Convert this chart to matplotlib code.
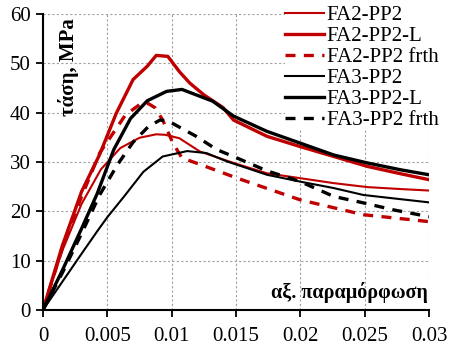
import matplotlib
matplotlib.use("Agg")
import matplotlib.pyplot as plt

# ── Data ────────────────────────────────────────────────────────────────
fa2_eps   = [0, 0.0015, 0.003, 0.0045, 0.006, 0.0075, 0.0088, 0.0095, 0.0106, 0.0122,
             0.0148, 0.0174, 0.02, 0.0226, 0.0252, 0.0278, 0.03]
fa2_sig   = [0, 12.0, 21.5, 28.5, 32.8, 34.9, 35.6, 35.5, 34.8, 32.1,
             29.8, 27.7, 26.7, 25.7, 24.9, 24.5, 24.2]

fa2l_eps  = [0, 0.0015, 0.003, 0.0044, 0.0057, 0.007, 0.0081, 0.0088, 0.0097, 0.0106,
             0.0114, 0.0125, 0.014, 0.0148, 0.0174, 0.02, 0.0226, 0.0252, 0.0278, 0.03]
fa2l_sig  = [0, 13.0, 24.0, 31.5, 39.9, 46.7, 49.4, 51.6, 51.4, 48.3,
             46.0, 43.6, 41.0, 38.5, 35.2, 33.1, 31.1, 29.1, 27.6, 26.4]

fa2f_eps  = [0, 0.0015, 0.003, 0.0044, 0.0064, 0.0077, 0.0082, 0.0087, 0.0093, 0.0101,
             0.0108, 0.0122, 0.0151, 0.02, 0.0249, 0.03]
fa2f_sig  = [0, 12.5, 23.0, 31.8, 39.5, 42.0, 41.8, 41.0, 38.5, 33.8,
             30.8, 29.5, 26.7, 22.3, 19.3, 17.9]

fa3_eps   = [0, 0.0015, 0.003, 0.0042, 0.005, 0.0063, 0.0078, 0.0093, 0.0112, 0.0127,
             0.0143, 0.0174, 0.02, 0.0226, 0.0249, 0.03]
fa3_sig   = [0, 5.7, 11.4, 15.9, 18.8, 23.0, 28.0, 31.1, 32.2, 31.8,
             30.1, 27.4, 26.0, 24.7, 23.3, 21.8]

fa3l_eps  = [0, 0.0015, 0.003, 0.0042, 0.0055, 0.0068, 0.0081, 0.0096, 0.0108, 0.0119,
             0.0132, 0.0148, 0.0174, 0.02, 0.0226, 0.0252, 0.0278, 0.03]
fa3l_sig  = [0, 8.0, 16.5, 23.5, 32.5, 38.8, 42.4, 44.3, 44.7, 43.6,
             42.3, 39.3, 36.2, 33.8, 31.4, 29.8, 28.4, 27.4]

fa3f_eps  = [0, 0.0015, 0.003, 0.0044, 0.0058, 0.007, 0.0082, 0.0091, 0.0098, 0.0119,
             0.0135, 0.0148, 0.0174, 0.02, 0.0226, 0.0249, 0.0272, 0.03]
fa3f_sig  = [0, 7.5, 15.5, 23.3, 29.5, 34.0, 37.2, 38.5, 38.2, 35.2,
             32.5, 31.1, 28.2, 26.0, 23.0, 21.7, 20.3, 18.9]

x_ticks = [0, 0.005, 0.01, 0.015, 0.02, 0.025, 0.03]
x_tick_labels = ["0", "0.005", "0.01", "0.015", "0.02", "0.025", "0.03"]
y_ticks = [0, 10, 20, 30, 40, 50, 60]

RED = "#c00000"

# ── Figure ──────────────────────────────────────────────────────────────
plt.rcParams["font.family"] = ["Liberation Serif", "DejaVu Serif"]

fig = plt.figure(figsize=(4.55, 3.49), dpi=100, facecolor="white")
ax = fig.add_axes([0.0945, 0.112, 0.8485, 0.848])

ax.plot(fa2_eps, fa2_sig, color=RED, lw=1.5, label="FA2-PP2")
ax.plot(fa2l_eps, fa2l_sig, color=RED, lw=2.4, label="FA2-PP2-L")
ax.plot(fa2f_eps, fa2f_sig, color=RED, lw=2.4, ls=(0, (3, 2.5)), label="FA2-PP2 frth")
ax.plot(fa3_eps, fa3_sig, color="black", lw=1.5, label="FA3-PP2")
ax.plot(fa3l_eps, fa3l_sig, color="black", lw=2.4, label="FA3-PP2-L")
ax.plot(fa3f_eps, fa3f_sig, color="black", lw=2.4, ls=(0, (3, 2.5)), label="FA3-PP2 frth")

ax.set_xlim(0, 0.03)
ax.set_ylim(0, 60)
ax.set_xticks(x_ticks)
ax.set_xticklabels(x_tick_labels)
ax.set_yticks(y_ticks)
ax.tick_params(direction="out", length=5, width=1.3, labelsize=15, pad=4)
ax.tick_params(axis="x", pad=7)

ax.grid(True, color="#a0a0a0", ls=(0, (2, 2)), lw=0.8)
ax.set_axisbelow(True)
for side in ("top", "right"):
    ax.spines[side].set_visible(False)
for side in ("left", "bottom"):
    ax.spines[side].set_linewidth(1.5)

ax.text(0.065, 0.985, "τάση, MPa", transform=ax.transAxes, rotation=90,
        ha="center", va="top", fontsize=15, fontweight="bold")
ax.text(0.997, 0.025, "αξ. παραμόρφωση", transform=ax.transAxes,
        ha="right", va="bottom", fontsize=14.5, fontweight="bold")

leg = ax.legend(loc="upper right", bbox_to_anchor=(1.025, 1.028), fontsize=15,
                frameon=True, framealpha=1, edgecolor="none", facecolor="white",
                handlelength=1.9, handletextpad=0.12, labelspacing=0.07,
                borderpad=0.0, borderaxespad=0.0)

fig.savefig("out.png", dpi=100, facecolor="white")
